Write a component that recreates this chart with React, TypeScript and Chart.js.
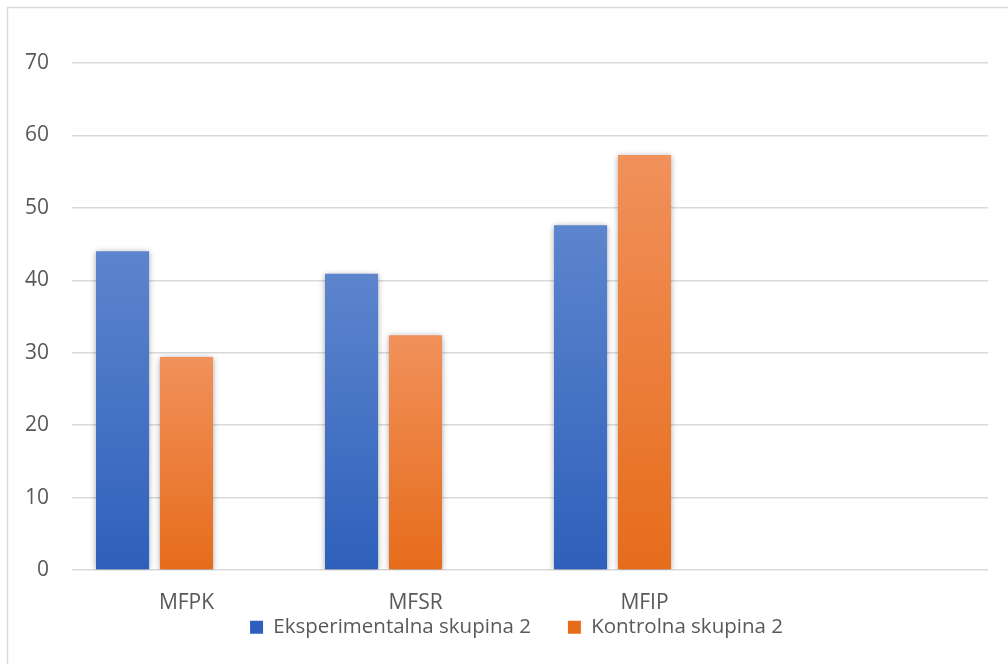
import React, { useEffect, useRef } from "react";
import { Chart, registerables } from "chart.js";

Chart.register(...registerables);

const categories = ["MFPK", "MFSR", "MFIP", ""];
const experimentalLabel = "Eksperimentalna skupina 2";
const controlLabel = "Kontrolna skupina 2";
const experimentalValues = [44.0, 40.9, 47.6, null];
const controlValues = [29.4, 32.4, 57.3, null];
const placeholderValues = [null, null, null, null];
const yMin = 0;
const yMax = 70;
const yStep = 10;

const FONT = "'Open Sans', 'DejaVu Sans', sans-serif";
const TEXT = "#595959";
const GRID = "#d9d9d9";

function gradientFill(top: string, bottom: string, legendColor: string) {
  return (ctx: any) => {
    const chart = ctx.chart;
    const v = ctx.raw;
    if (ctx.type !== "data" || v == null || !chart.chartArea) return legendColor;
    const y = chart.scales.y;
    const y0 = y.getPixelForValue(v);
    const y1 = y.getPixelForValue(0);
    const g = chart.ctx.createLinearGradient(0, y0, 0, y1);
    g.addColorStop(0, top);
    g.addColorStop(1, bottom);
    return g;
  };
}

const framePlugin = {
  id: "frame",
  beforeDraw(chart: any) {
    const c = chart.ctx;
    c.save();
    c.fillStyle = "#ffffff";
    c.fillRect(0, 0, chart.width, chart.height);
    c.strokeStyle = GRID;
    c.lineWidth = 1.5;
    c.strokeRect(7.5, 7.5, chart.width + 50, chart.height + 50);
    c.restore();
  },
};

const shadowPlugin = {
  id: "barShadow",
  beforeDatasetsDraw(chart: any) {
    const c = chart.ctx;
    c.save();
    c.shadowColor = "rgba(0,0,0,0.35)";
    c.shadowBlur = 6;
    c.shadowOffsetX = 0;
    c.shadowOffsetY = 1;
  },
  afterDatasetsDraw(chart: any) {
    chart.ctx.restore();
  },
};

export default function App() {
  const ref = useRef<HTMLCanvasElement | null>(null);

  useEffect(() => {
    if (!ref.current) return;
    const chart = new Chart(ref.current, {
      type: "bar",
      data: {
        labels: categories,
        datasets: [
          {
            label: experimentalLabel,
            data: experimentalValues,
            backgroundColor: gradientFill("#5d85cd", "#2e60bb", "#4571c6"),
            borderWidth: 0,
            categoryPercentage: 0.838,
            barPercentage: 0.83,
          },
          {
            label: controlLabel,
            data: controlValues,
            backgroundColor: gradientFill("#f1915b", "#e66c1b", "#ee7e36"),
            borderWidth: 0,
            categoryPercentage: 0.838,
            barPercentage: 0.83,
          },
          {
            label: "",
            data: placeholderValues,
            backgroundColor: "rgba(0,0,0,0)",
            borderWidth: 0,
            categoryPercentage: 0.838,
            barPercentage: 0.83,
          },
        ],
      },
      options: {
        responsive: false,
        animation: false,
        devicePixelRatio: 1,
        layout: { padding: { left: 22, right: -3, top: 63, bottom: 16.5 } },
        plugins: {
          title: { display: false },
          tooltip: { enabled: false },
          legend: {
            position: "bottom",
            labels: {
              boxWidth: 13,
              boxHeight: 13,
              padding: 37,
              color: TEXT,
              font: { family: FONT, size: 20.5 },
              filter: (item: any) => item.datasetIndex < 2,
            },
          },
        },
        scales: {
          x: {
            grid: { display: false, drawTicks: false },
            border: { display: false },
            ticks: { color: TEXT, font: { family: FONT, size: 21 }, mirror: true, padding: -46 },
            afterFit: (s: any) => {
              s.height = 10;
            },
          },
          y: {
            min: yMin,
            max: yMax,
            grid: { color: GRID, lineWidth: 1.5, drawTicks: false },
            border: { display: false },
            ticks: { stepSize: yStep, color: TEXT, font: { family: FONT, size: 21 }, padding: 23 },
            afterFit: (s: any) => {
              s.width = 50;
            },
          },
          y2: {
            position: "right",
            display: true,
            grid: { display: false, drawTicks: false },
            border: { display: false },
            ticks: { display: false },
            afterFit: (s: any) => {
              s.width = 23;
            },
          },
        },
      },
      plugins: [framePlugin, shadowPlugin],
    });
    return () => chart.destroy();
  }, []);

  return (
    <div style={{ position: "fixed", left: 0, top: 0, width: 1008, height: 664, background: "#fff" }}>
      <canvas ref={ref} width={1008} height={664} style={{ display: "block" }} />
    </div>
  );
}
